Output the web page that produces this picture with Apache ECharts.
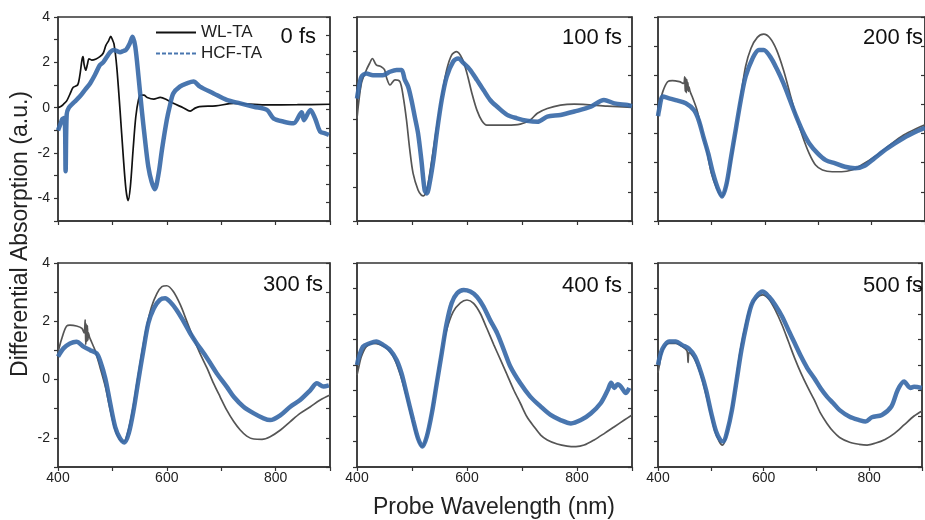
<!DOCTYPE html>
<html>
<head>
<meta charset="utf-8">
<script src="https://cdn.jsdelivr.net/npm/echarts@6/dist/echarts.min.js"></script>
<style>html,body{margin:0;padding:0;background:#fff}#chart{width:925px;height:520px}</style>
</head>
<body>
<div id="chart"></div>
<script>
// ---------- data ----------
const seriesNames = ['WL-TA', 'HCF-TA'];
const delayLabels = ['0 fs', '100 fs', '200 fs', '300 fs', '400 fs', '500 fs'];
const xTickLabels = [400, 600, 800];
const yTickLabels = [-4, -2, 0, 2, 4];

// 0 fs
const wl0Nm  = [400,405,410,416,422,428,436,440,444,446,448,451,454,457,462,470,477,483,488,493,497,500,503,508,514,520,525,529,533,538,543,548,552,558,564,576,588,600,612,630,643,652,660,690,723,780,840,900];
const wl0Val = [0.0,0.05,0.15,0.3,0.6,0.9,1.0,1.4,2.1,2.25,1.9,1.65,1.9,2.15,2.1,2.15,2.25,2.4,2.75,2.95,3.15,3.0,2.8,1.8,-0.1,-2.16,-3.63,-4.1,-3.49,-1.87,-0.4,0.35,0.55,0.55,0.45,0.38,0.45,0.35,0.19,0.0,-0.15,-0.02,0.05,0.08,0.19,0.12,0.13,0.15];
const hcf0Nm  = [400,404,408,412,414,416,420,430,440,450,459,468,477,483,490,496,502,508,514,520,525,532,537,542,548,554,560,566,572,578,585,591,600,606,612,624,637,649,661,686,710,735,760,784,796,815,833,848,852,864,873,882,891,898];
const hcf0Val = [-1.0,-0.75,-0.5,-0.45,-2.8,-0.3,0.0,0.25,0.49,0.8,1.07,1.45,1.88,2.0,2.25,2.45,2.54,2.5,2.45,2.5,2.55,2.84,3.13,2.7,1.37,-0.1,-1.43,-2.6,-3.26,-3.6,-2.9,-1.87,-0.54,0.12,0.63,0.93,1.07,1.15,0.93,0.63,0.34,0.19,0.04,-0.1,-0.47,-0.62,-0.69,-0.2,-0.55,-0.1,-0.5,-1.06,-1.13,-1.2];

// 100 fs
const wl1Nm  = [400,408,417,423,428,435,444,450,454,460,469,478,484,490,496,502,511,517,521,527,536,545,554,563,572,581,591,600,609,618,627,636,649,673,697,715,728,746,770,795,855,900];
const wl1Val = [0.02,1.05,1.44,1.64,1.78,1.59,1.54,1.45,1.2,1.0,1.15,1.1,0.66,-0.03,-0.91,-1.6,-2.09,-2.24,-2.26,-2.09,-1.2,-0.23,0.66,1.44,1.88,1.98,1.78,1.34,0.75,0.26,-0.05,-0.18,-0.18,-0.18,-0.15,-0.03,0.17,0.31,0.41,0.44,0.38,0.34];
const hcf1Nm  = [400,402,408,417,429,447,460,472,481,487,493,499,505,511,517,523,527,533,539,545,554,563,575,584,594,606,618,630,642,655,673,691,709,728,746,770,795,825,849,868,892,900];
const hcf1Val = [0.6,0.8,1.24,1.34,1.29,1.29,1.39,1.44,1.44,1.15,0.95,0.56,0.07,-0.42,-1.2,-2.09,-2.19,-1.8,-1.2,-0.42,0.56,1.24,1.69,1.78,1.64,1.44,1.15,0.85,0.56,0.36,0.12,0.02,-0.05,-0.08,0.07,0.12,0.22,0.36,0.56,0.46,0.41,0.38];

// 200 fs
const wl2Nm  = [400,402,409,418,427,440,448,450,451,452,453,454,455,456,457,458,460,464,473,482,491,500,510,519,528,537,546,555,564,574,586,598,610,622,635,647,659,671,683,695,708,726,744,763,781,805,830,860,887,900];
const wl2Val = [0.7,0.92,1.44,1.78,1.82,1.78,1.72,1.95,1.45,1.9,1.4,1.85,1.5,1.75,1.45,1.6,1.45,1.27,0.81,0.12,-0.56,-1.36,-1.88,-2.16,-1.82,-0.91,0.12,1.27,2.3,2.92,3.3,3.41,3.27,2.87,2.18,1.38,0.58,-0.11,-0.68,-1.08,-1.25,-1.31,-1.31,-1.25,-1.08,-0.8,-0.45,-0.05,0.2,0.3];
const hcf2Nm  = [400,402,409,421,433,452,467,476,485,494,503,512,520,528,537,546,555,564,577,589,598,610,622,635,647,659,671,683,699,714,732,750,769,787,805,830,860,887,900];
const hcf2Val = [0.6,0.81,1.27,1.21,1.15,1.04,0.81,0.47,-0.11,-0.68,-1.36,-1.88,-2.16,-1.76,-0.79,0.18,1.15,1.95,2.58,2.87,2.87,2.64,2.24,1.72,1.15,0.58,0.07,-0.33,-0.68,-0.91,-1.02,-1.14,-1.19,-1.1,-0.85,-0.5,-0.15,0.1,0.2];

// 300 fs
const wl3Nm  = [400,401,410,416,422,434,444,448,450,451,452,453,454,455,456,458,460,468,477,487,496,505,514,520,526,536,545,554,563,572,582,591,600,612,625,637,649,661,674,686,698,710,723,735,747,760,775,790,809,827,845,864,882,900];
const wl3Val = [0.8,1.01,1.59,1.84,1.87,1.84,1.76,1.6,2.05,1.2,1.9,1.3,1.85,1.35,1.6,1.45,1.36,1.01,0.44,-0.24,-1.04,-1.73,-2.07,-2.13,-1.96,-1.16,-0.13,0.9,1.82,2.5,2.96,3.19,3.22,3.02,2.56,1.99,1.42,0.9,0.39,-0.13,-0.59,-1.04,-1.44,-1.73,-1.94,-2.04,-2.05,-1.96,-1.73,-1.44,-1.16,-0.93,-0.7,-0.53];
const hcf3Nm  = [400,410,422,434,447,459,471,477,487,496,505,514,522,530,539,548,557,566,576,587,597,606,618,631,643,655,668,680,692,710,723,741,760,778,790,809,827,845,864,876,888,898];
const hcf3Val = [0.79,1.07,1.24,1.3,1.13,1.01,0.9,0.67,0.04,-0.82,-1.62,-2.02,-2.16,-1.85,-1.04,0.01,1.01,1.93,2.44,2.73,2.79,2.67,2.39,1.99,1.59,1.24,0.9,0.56,0.21,-0.24,-0.59,-0.93,-1.16,-1.33,-1.39,-1.22,-0.93,-0.7,-0.36,-0.13,-0.24,-0.2];

// 400 fs
const wl4Nm  = [400,402,408,417,429,441,454,466,478,490,502,511,518,524,533,542,551,563,575,588,600,612,624,636,649,661,673,685,697,709,722,734,746,764,782,798,813,831,850,868,886,900];
const wl4Val = [0.6,0.8,1.33,1.72,1.85,1.81,1.65,1.33,0.67,-0.24,-1.29,-1.94,-2.2,-2.0,-1.16,0.02,1.2,2.37,3.09,3.44,3.55,3.42,3.03,2.44,1.78,1.2,0.61,0.02,-0.5,-1.03,-1.42,-1.75,-1.94,-2.1,-2.18,-2.2,-2.14,-1.94,-1.68,-1.42,-1.16,-0.96];
const hcf4Nm  = [400,402,411,423,435,448,460,472,481,490,502,511,519,527,536,545,554,563,572,582,594,606,618,630,642,655,667,679,697,715,734,752,770,789,807,825,843,856,862,868,874,880,889,895];
const hcf4Val = [1.0,1.2,1.72,1.85,1.92,1.78,1.59,1.2,0.67,-0.11,-1.16,-1.88,-2.2,-1.8,-0.9,0.28,1.46,2.63,3.42,3.81,3.94,3.88,3.68,3.29,2.76,2.24,1.59,0.93,0.28,-0.24,-0.63,-0.96,-1.16,-1.29,-1.16,-0.9,-0.5,0.02,0.3,0.1,0.25,0.15,-0.1,0.1];

// 500 fs
const wl5Nm  = [400,402,409,421,434,446,455,457,459,470,482,495,507,516,522,528,537,546,555,565,574,586,598,610,622,635,647,659,671,683,696,708,720,732,744,763,781,796,811,830,848,866,885,900];
const wl5Val = [0.7,0.93,1.59,1.85,1.85,1.72,1.55,1.1,1.5,1.2,0.54,-0.5,-1.55,-2.0,-2.14,-1.9,-1.03,0.15,1.46,2.5,3.22,3.61,3.75,3.58,3.16,2.57,1.92,1.26,0.67,0.15,-0.37,-0.9,-1.29,-1.61,-1.84,-2.03,-2.11,-2.14,-2.07,-1.92,-1.68,-1.35,-1.0,-0.8];
const hcf5Nm  = [400,402,409,421,434,446,458,470,482,491,501,510,518,524,531,540,549,558,568,577,586,598,610,622,635,647,659,671,683,696,708,720,732,744,763,781,793,805,824,842,854,866,878,885,900];
const hcf5Val = [1.0,1.2,1.65,1.92,1.92,1.78,1.65,1.33,0.67,0.02,-0.9,-1.61,-1.94,-2.0,-1.61,-0.77,0.41,1.59,2.63,3.35,3.68,3.88,3.68,3.35,2.9,2.37,1.85,1.33,0.87,0.48,0.09,-0.24,-0.5,-0.77,-1.03,-1.16,-1.22,-1.05,-0.96,-0.63,0.02,0.35,0.1,0.15,0.1];

// ---------- layout / styling ----------
const wlSets  = [[wl0Nm,wl0Val],[wl1Nm,wl1Val],[wl2Nm,wl2Val],[wl3Nm,wl3Val],[wl4Nm,wl4Val],[wl5Nm,wl5Val]];
const hcfSets = [[hcf0Nm,hcf0Val],[hcf1Nm,hcf1Val],[hcf2Nm,hcf2Val],[hcf3Nm,hcf3Val],[hcf4Nm,hcf4Val],[hcf5Nm,hcf5Val]];
const zip = (a, b) => a.map((x, k) => [x, b[k]]);

const colLeft = [58, 357, 658];
const colWidth = [272, 275, 272];
const rowTop = [17, 263];
const plotH = 204;
const leftMin = [-5, -3, -3, -3, -3, -3];
const leftMax = [4, 3, 4, 4, 5, 5];
const rightMin = [0, -3, -3, -3, -3, -3];
const rightMax = [11, 4, 4, 4, 4, 5];

const FONT = '"Liberation Sans", Arial, sans-serif';
const AX = '#333';
const WL_COLOR0 = '#111111';
const WL_COLOR = '#555555';
const HCF_COLOR = '#3a6aa8';

const grids = [], xAxes = [], yAxes = [], series = [];
for (let i = 0; i < 6; i++) {
  const r = Math.floor(i / 3), c = i % 3;
  grids.push({left: colLeft[c], top: rowTop[r], width: colWidth[c], height: plotH,
    show: true, borderColor: AX, borderWidth: 1.3, backgroundColor: 'transparent'});
  xAxes.push({
    type: 'value', gridIndex: i, min: 400, max: 900, interval: 100,
    axisLine: {show: true, onZero: false, lineStyle: {color: AX, width: 1.5}},
    axisTick: {show: true, inside: false, length: 4, lineStyle: {color: AX, width: 1.2}},
    axisLabel: {show: r === 1, margin: 4, fontSize: 14, color: '#222', fontFamily: FONT,
      formatter: v => xTickLabels.includes(v) ? String(v) : ''},
    splitLine: {show: false}
  });
}
for (let i = 0; i < 6; i++) {
  const c = i % 3;
  yAxes.push({
    type: 'value', gridIndex: i, position: 'left', min: leftMin[i], max: leftMax[i], interval: 1,
    axisLine: {show: true, onZero: false, lineStyle: {color: AX, width: 1.5}},
    axisTick: {show: true, inside: false, length: 4, lineStyle: {color: AX, width: 1.2}},
    axisLabel: {show: c === 0, margin: 8, fontSize: 14, color: '#222', fontFamily: FONT,
      formatter: v => yTickLabels.includes(v) ? String(v) : ''},
    splitLine: {show: false}
  });
}
for (let i = 0; i < 6; i++) {
  yAxes.push({
    type: 'value', gridIndex: i, position: 'right', min: rightMin[i], max: rightMax[i], interval: 1,
    axisLine: {show: true, onZero: false, lineStyle: {color: AX, width: 1.5}},
    axisTick: {show: true, inside: true, length: 4, lineStyle: {color: AX, width: 1.2}},
    axisLabel: {show: false}, splitLine: {show: false}
  });
}
for (let i = 0; i < 6; i++) {
  series.push({
    name: seriesNames[0], type: 'line', xAxisIndex: i, yAxisIndex: i,
    data: zip(wlSets[i][0], wlSets[i][1]), symbol: 'none', smooth: 0.3, clip: true,
    lineStyle: {color: i === 0 ? WL_COLOR0 : WL_COLOR, width: 1.7},
    itemStyle: {color: i === 0 ? WL_COLOR0 : WL_COLOR}, z: 2
  });
  series.push({
    name: seriesNames[1], type: 'line', xAxisIndex: i, yAxisIndex: i,
    data: zip(hcfSets[i][0], hcfSets[i][1]), symbol: 'none', smooth: 0.3, clip: true,
    lineStyle: {color: HCF_COLOR, width: 4.5, opacity: 0.92},
    itemStyle: {color: HCF_COLOR}, z: 3
  });
}

const labelX = [316, 622, 923, 323, 622, 923];
const labelY = [37, 38, 38, 285, 286, 286];
const graphics = delayLabels.map((t, i) => ({
  type: 'text', x: labelX[i], y: labelY[i], z: 10,
  style: {text: t, fontSize: 22, fontFamily: FONT, fill: '#111',
    align: 'right', textAlign: 'right', verticalAlign: 'middle', textVerticalAlign: 'middle'}
}));
graphics.push({
  type: 'text', x: 21, y: 234, rotation: Math.PI / 2, z: 10,
  style: {text: 'Differential Absorption (a.u.)', fontSize: 23, fontFamily: FONT, fill: '#222',
    align: 'center', textAlign: 'center', verticalAlign: 'middle', textVerticalAlign: 'middle'}
});
graphics.push({
  type: 'text', x: 494, y: 508, z: 10,
  style: {text: 'Probe Wavelength (nm)', fontSize: 23, fontFamily: FONT, fill: '#222',
    align: 'center', textAlign: 'center', verticalAlign: 'middle', textVerticalAlign: 'middle'}
});

const chart = echarts.init(document.getElementById('chart'), null, {renderer: 'canvas'});
chart.setOption({
  animation: false,
  backgroundColor: '#ffffff',
  grid: grids, xAxis: xAxes, yAxis: yAxes, series: series,
  legend: {
    orient: 'vertical', left: 155, top: 24, padding: 0, itemWidth: 40, itemHeight: 14, itemGap: 4,
    selectedMode: false,
    textStyle: {fontSize: 17, color: '#222', fontFamily: FONT, lineHeight: 14},
    data: [
      {name: seriesNames[0], itemStyle: {opacity: 0}, lineStyle: {color: WL_COLOR0, width: 1.8, type: 'solid'}},
      {name: seriesNames[1], itemStyle: {opacity: 0}, lineStyle: {color: HCF_COLOR, width: 2, type: [4, 2]}}
    ]
  },
  graphic: graphics
});
</script>
</body>
</html>
